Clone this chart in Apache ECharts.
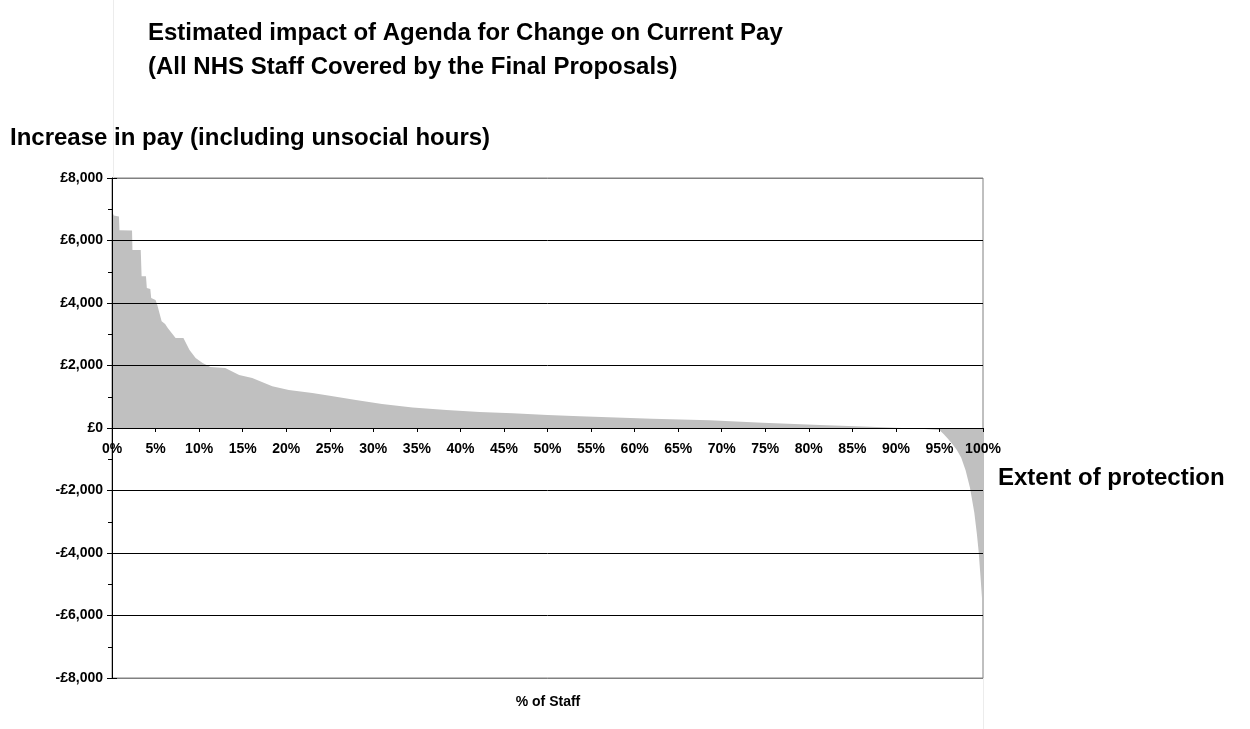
<!DOCTYPE html>
<html>
<head>
<meta charset="utf-8">
<script src="https://cdn.jsdelivr.net/npm/echarts@6/dist/echarts.min.js"></script>
<style>
  html, body { margin: 0; padding: 0; background: #fff; }
  #chart { width: 1250px; height: 729px; }
</style>
</head>
<body>
<div id="chart"></div>
<script>
// % of staff (sorted by pay change) and the estimated change in pay
var staffPct = [0, 0.2, 0.8, 0.85, 2.3, 2.35, 3.3, 3.4, 3.9, 4.0, 4.4, 4.5, 5.0, 5.2, 5.7, 6.1, 6.4,
  7.3, 8.2, 8.9, 9.6, 10.4, 11.3, 13.0, 14.6, 16.1, 18.4, 20.3, 23, 25, 28, 31, 34.5, 38.4,
  42.2, 46, 50, 53.7, 62, 68.6, 74.7, 81.3, 87, 90, 92.8, 95, 95.5, 96, 96.5, 97,
  97.5, 98, 98.5, 99, 99.3, 99.5, 99.7, 99.9, 100];
var payIncrease = [6950, 6800, 6770, 6330, 6320, 5700, 5700, 4860, 4860, 4480, 4450, 4160, 4100, 3940, 3420, 3330, 3200,
  2880, 2880, 2500, 2240, 2080, 1950, 1920, 1700, 1600, 1340, 1220, 1120, 1035, 900, 770, 660, 575,
  510, 470, 415, 380, 300, 245, 170, 100, 40, 5, -20, -60, -200, -350, -520, -700,
  -950, -1350, -1900, -2700, -3400, -3950, -4700, -5500, -6000];
var yMin = -8000, yMax = 8000, yStep = 2000;
var xMin = 0, xMax = 100, xStep = 5;

var FONT = '"Liberation Sans", Arial, sans-serif';

function money(v) {
  var s = Math.abs(v).toString().replace(/\B(?=(\d{3})+(?!\d))/g, ',');
  return (v < 0 ? '-£' : '£') + s;
}

var points = staffPct.map(function (p, i) { return [p, payIncrease[i]]; });

// grid lines: plot edges grey, inner lines black
var gridColors = [];
for (var v = yMin; v <= yMax; v += yStep) {
  gridColors.push(v === yMin || v === yMax ? '#808080' : '#000');
}

var chart = echarts.init(document.getElementById('chart'));
chart.setOption({
  backgroundColor: '#fff',
  animation: false,
  textStyle: { fontFamily: FONT },
  grid: {
    left: 112, right: 267, top: 178, bottom: 51,
    show: true, borderColor: '#808080', borderWidth: 1
  },
  xAxis: {
    type: 'value',
    min: xMin, max: xMax, interval: xStep,
    position: 'bottom',
    offset: -250, // sits on the £0 line, half way up the 500px plot
    z: 5,
    axisLine: { onZero: false, lineStyle: { color: '#000', width: 1 } },
    axisTick: { show: true, length: 4, lineStyle: { color: '#000' } },
    axisLabel: {
      formatter: '{value}%', color: '#000', fontWeight: 'bold', fontSize: 14,
      fontFamily: FONT, margin: 14
    },
    splitLine: { show: false }
  },
  yAxis: [{
    type: 'value',
    min: yMin, max: yMax, interval: yStep,
    z: 5,
    axisLine: { show: true, onZero: false, lineStyle: { color: '#000', width: 1 } },
    axisTick: { show: true, length: 5, lineStyle: { color: '#000' } },
    minorTick: { show: true, splitNumber: 2, length: 4, lineStyle: { color: '#000' } },
    axisLabel: {
      formatter: money, color: '#000', fontWeight: 'bold', fontSize: 14,
      fontFamily: FONT, margin: 9
    },
    splitLine: { show: true, lineStyle: { color: gridColors, width: 1 } }
  }, {
    // inner half of the major ticks
    type: 'value',
    min: yMin, max: yMax, interval: yStep,
    position: 'left', offset: 0, z: 5,
    axisLine: { show: false, onZero: false },
    axisTick: { show: true, inside: true, length: 5, lineStyle: { color: '#000' } },
    axisLabel: { show: false },
    splitLine: { show: false }
  }],
  series: [{
    type: 'line',
    data: points,
    showSymbol: false,
    silent: true,
    lineStyle: { width: 0 },
    areaStyle: { color: '#c0c0c0', opacity: 1 },
    z: 2
  }],
  graphic: [
    { type: 'line', silent: true, shape: { x1: 113.5, y1: 0, x2: 113.5, y2: 178 },
      style: { stroke: '#ececec', lineWidth: 1 } },
    { type: 'line', silent: true, shape: { x1: 983.5, y1: 678, x2: 983.5, y2: 729 },
      style: { stroke: '#ececec', lineWidth: 1 } },
    { type: 'text', x: 148, y: 33,
      style: { text: 'Estimated impact of Agenda for Change on Current Pay', font: 'bold 24px ' + FONT,
        fill: '#000', textAlign: 'left', textVerticalAlign: 'middle', align: 'left', verticalAlign: 'middle' } },
    { type: 'text', x: 148, y: 67,
      style: { text: '(All NHS Staff Covered by the Final Proposals)', font: 'bold 24px ' + FONT,
        fill: '#000', textAlign: 'left', textVerticalAlign: 'middle', align: 'left', verticalAlign: 'middle' } },
    { type: 'text', x: 10, y: 138,
      style: { text: 'Increase in pay (including unsocial hours)', font: 'bold 24px ' + FONT,
        fill: '#000', textAlign: 'left', textVerticalAlign: 'middle', align: 'left', verticalAlign: 'middle' } },
    { type: 'text', x: 998, y: 478,
      style: { text: 'Extent of protection', font: 'bold 24px ' + FONT,
        fill: '#000', textAlign: 'left', textVerticalAlign: 'middle', align: 'left', verticalAlign: 'middle' } },
    { type: 'text', x: 548, y: 702,
      style: { text: '% of Staff', font: 'bold 14px ' + FONT,
        fill: '#000', textAlign: 'center', textVerticalAlign: 'middle', align: 'center', verticalAlign: 'middle' } }
  ]
});
</script>
</body>
</html>
